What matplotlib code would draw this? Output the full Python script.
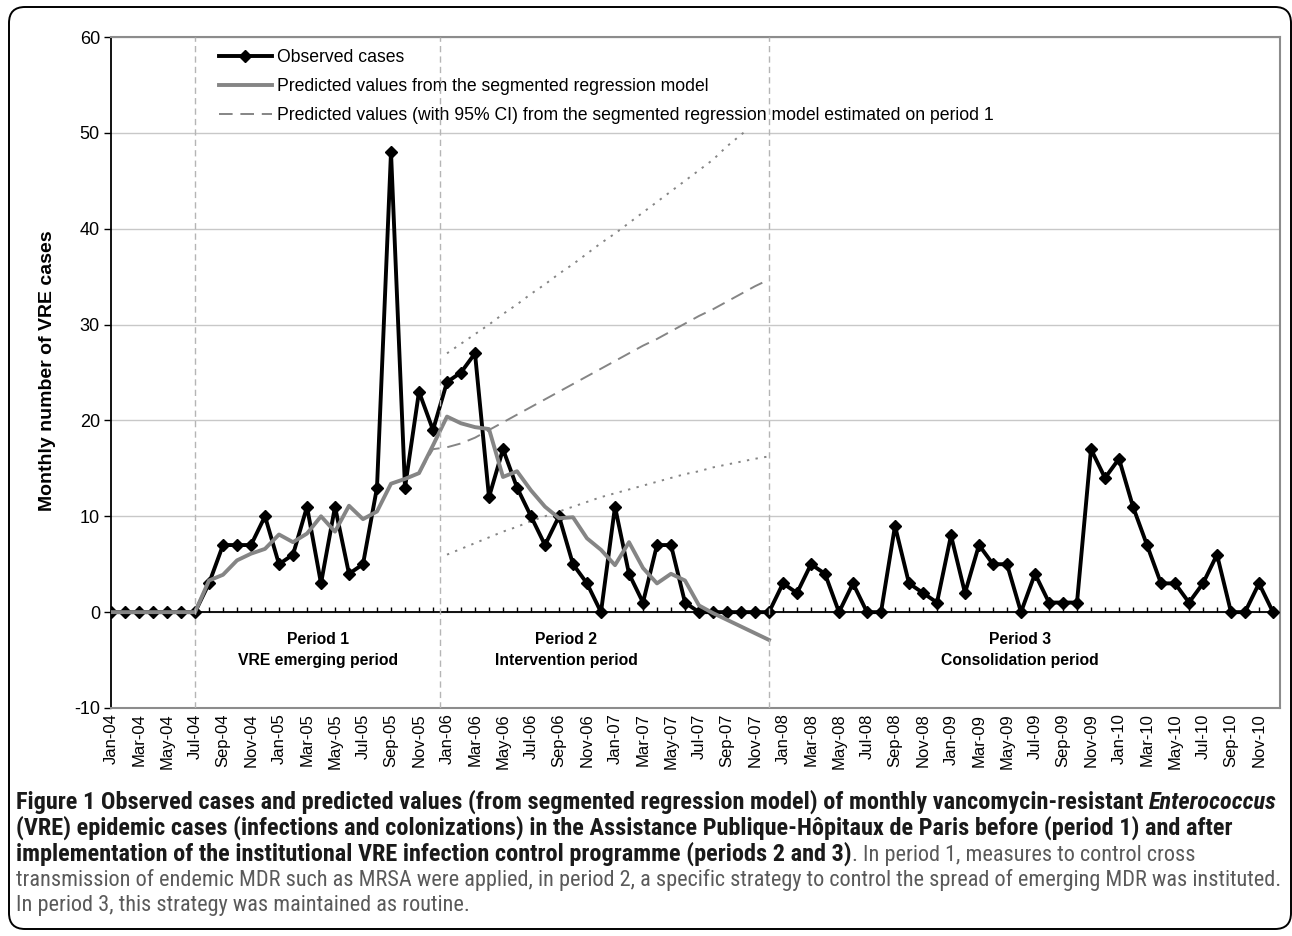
import numpy as np
import matplotlib
matplotlib.use('Agg')
import matplotlib.pyplot as plt
from matplotlib.lines import Line2D
from matplotlib.patches import FancyBboxPatch
from matplotlib.transforms import IdentityTransform
from matplotlib import font_manager as fm

# ---------------- data ----------------
tick_labels = ['Jan-04', 'Mar-04', 'May-04', 'Jul-04', 'Sep-04', 'Nov-04',
               'Jan-05', 'Mar-05', 'May-05', 'Jul-05', 'Sep-05', 'Nov-05',
               'Jan-06', 'Mar-06', 'May-06', 'Jul-06', 'Sep-06', 'Nov-06',
               'Jan-07', 'Mar-07', 'May-07', 'Jul-07', 'Sep-07', 'Nov-07',
               'Jan-08', 'Mar-08', 'May-08', 'Jul-08', 'Sep-08', 'Nov-08',
               'Jan-09', 'Mar-09', 'May-09', 'Jul-09', 'Sep-09', 'Nov-09',
               'Jan-10', 'Mar-10', 'May-10', 'Jul-10', 'Sep-10', 'Nov-10']

# monthly observed VRE cases, Jan-04 .. Dec-10
observed = [0, 0, 0, 0, 0, 0, 0, 3, 7, 7, 7, 10,
            5, 6, 11, 3, 11, 4, 5, 13, 48, 13, 23, 19,
            24, 25, 27, 12, 17, 13, 10, 7, 10, 5, 3, 0,
            11, 4, 1, 7, 7, 1, 0, 0, 0, 0, 0, 0,
            3, 2, 5, 4, 0, 3, 0, 0, 9, 3, 2, 1,
            8, 2, 7, 5, 5, 0, 4, 1, 1, 1, 17, 14,
            16, 11, 7, 3, 3, 1, 3, 6, 0, 0, 3, 0]

# predicted values from segmented regression model, Jan-04 .. Dec-07
predicted = [0, 0, 0, 0, 0, 0, 0, 3.3, 3.9, 5.4, 6.1, 6.6,
             8.1, 7.3, 8.2, 10.0, 8.4, 11.1, 9.7, 10.5, 13.4, 13.9, 14.5, 17.4,
             20.4, 19.7, 19.3, 19.1, 14.1, 14.7, 12.7, 11.0, 9.8, 9.9, 7.7, 6.5,
             4.9, 7.3, 4.6, 3.0, 4.0, 3.3, 0.7, -0.1, -0.8, -1.5, -2.2, -2.9]

# model estimated on period 1, Jul-04 .. Dec-07
period1_model = [0, 3.3, 3.9, 5.4, 6.1, 6.6,
                 8.1, 7.3, 8.2, 10.0, 8.4, 11.1, 9.7, 10.5, 13.4, 13.9, 14.5, 17.0,
                 17.2, 17.6, 18.2, 19.0, 19.8, 20.6, 21.4, 22.2, 23.0, 23.8, 24.6, 25.4,
                 26.2, 27.0, 27.8, 28.5, 29.3, 30.1, 30.9, 31.6, 32.4, 33.2, 34.0, 34.7]
period1_start = 6

# 95% CI of that model, Jan-06 .. Dec-07
ci_upper = [27.0, 28.0, 29.0, 30.0, 31.1, 32.1, 33.2, 34.2, 35.3, 36.3, 37.4, 38.5,
            39.5, 40.6, 41.7, 42.8, 43.9, 45.0, 46.1, 47.2, 48.6, 49.8, 51.0, 52.2]
ci_lower = [6.0, 6.6, 7.2, 7.8, 8.4, 8.9, 9.5, 10.0, 10.5, 11.0, 11.5, 12.0,
            12.4, 12.8, 13.2, 13.6, 14.0, 14.4, 14.7, 15.1, 15.4, 15.7, 16.0, 16.25]
ci_start = 24

period_bounds = [6, 23.5, 47]
period_texts = ['Period 1\nVRE emerging period', 'Period 2\nIntervention period',
                'Period 3\nConsolidation period']
period_text_x = [14.8, 32.5, 64.9]

legend_labels = ['Observed cases',
                 'Predicted values from the segmented regression model',
                 'Predicted values (with 95% CI) from the segmented regression model estimated on period 1']

# ---------------- fonts ----------------
names = {f.name for f in fm.fontManager.ttflist}
sans = 'Liberation Sans' if 'Liberation Sans' in names else 'DejaVu Sans'
cond = None
for cand in ['Liberation Sans Narrow', 'DejaVu Sans Condensed', 'Roboto Condensed', 'Open Sans Condensed']:
    if cand in names:
        cond = cand
        break
if cond is None:
    cond = sans
plt.rcParams['font.family'] = [sans, 'DejaVu Sans']
plt.rcParams['axes.unicode_minus'] = False

W, H = 1292, 936
fig = plt.figure(figsize=(W / 100, H / 100), dpi=100)
ax = fig.add_axes([111 / W, 1 - 708 / H, (1280 - 111) / W, (708 - 37) / H])

x_obs = np.arange(len(observed))
x_pred = np.arange(len(predicted))
x_p1 = np.arange(len(period1_model)) + period1_start
x_ci = np.arange(len(ci_upper)) + ci_start

grey = '#858585'
ax.set_xlim(0, 83.5)
ax.set_ylim(-10, 60)
ax.set_yticks(np.arange(-10, 61, 10))
ax.yaxis.grid(True, color='#c8c8c8', lw=1.0)
ax.set_axisbelow(True)

# zero line with monthly tick marks
ax.axhline(0, color='black', lw=1.3, zorder=2)
ax.vlines(x_obs, 0, 0.55, color='black', lw=1.0, zorder=2)

ax.plot(x_ci, ci_upper, color=grey, lw=1.4, dashes=(1.2, 3.3), zorder=3)
ax.plot(x_ci, ci_lower, color=grey, lw=1.4, dashes=(1.2, 3.3), zorder=3)
ax.plot(x_p1, period1_model, color=grey, lw=1.4, dashes=(7, 4), zorder=3)
ax.plot(x_obs, observed, color='black', lw=2.8, marker='D', ms=5.8, zorder=4)
ax.plot(x_pred, predicted, color=grey, lw=2.8, zorder=4.5)

for xb in period_bounds:
    ax.axvline(xb, color='#b5b5b5', lw=1.0, dashes=(4.5, 3), zorder=7)

for xt, t in zip(period_text_x, period_texts):
    ax.text(xt, -3.9, t, ha='center', va='center', fontsize=11.3,
            fontweight='bold', linespacing=1.5)

ax.set_xticks(np.arange(0, 84, 2))
ax.set_xticklabels(tick_labels, rotation=90, fontsize=12)
ax.tick_params(axis='x', length=0, pad=4)
ax.tick_params(axis='y', length=5, width=1, labelsize=13, pad=3, color='black')

for s in ['top', 'right', 'bottom']:
    ax.spines[s].set_color('#8c8c8c')
    ax.spines[s].set_linewidth(1.5)
ax.spines['left'].set_color('black')
ax.spines['left'].set_linewidth(1.3)

handles = [Line2D([], [], color='black', lw=2.8, marker='D', ms=5.8),
           Line2D([], [], color=grey, lw=2.8),
           Line2D([], [], color=grey, lw=1.4, dashes=(7, 4))]
leg = ax.legend(handles, legend_labels, loc='upper left',
                bbox_to_anchor=((212 - 111) / 1169, (708 - 42) / 671),
                frameon=True, fancybox=False, edgecolor='none', facecolor='white',
                framealpha=1, fontsize=12.7, handlelength=3.0, handletextpad=0.3,
                labelspacing=0.68, borderpad=0.38, borderaxespad=0)
leg.set_zorder(6)

fig.text(48 / W, 1 - 371 / H, 'Monthly number of VRE cases', rotation=90,
         ha='center', va='center', fontsize=14, fontweight='bold')

# ---------------- caption ----------------
renderer = fig.canvas.get_renderer()
bold_col = '#1a1a1a'
norm_col = '#5a5a5a'

def make(x, y, s, **kw):
    return fig.text(x / W, 1 - y / H, s, ha='left', va='baseline', family=[cond, 'DejaVu Sans'], **kw)

def width(ts):
    return sum(t.get_window_extent(renderer).width for t in ts)

line1 = [('Figure 1 Observed cases and predicted values (from segmented regression model) of monthly vancomycin-resistant ', dict(fontweight='bold', color=bold_col)),
         ('Enterococcus', dict(fontweight='bold', fontstyle='italic', color=bold_col))]
line2 = [('(VRE) epidemic cases (infections and colonizations) in the Assistance Publique-H\u00f4pitaux de Paris before (period 1) and after', dict(fontweight='bold', color=bold_col))]
line3 = [('implementation of the institutional VRE infection control programme (periods 2 and 3)', dict(fontweight='bold', color=bold_col)),
         ('. In period 1, measures to control cross', dict(color=norm_col))]
line4 = [('transmission of endemic MDR such as MRSA were applied, in period 2, a specific strategy to control the spread of emerging MDR was instituted.', dict(color=norm_col))]
line5 = [('In period 3, this strategy was maintained as routine.', dict(color=norm_col))]

probe = [make(0, 0, s, fontsize=14, **kw) for s, kw in line1]
bsize = 14 * 1267 / width(probe)
for p in probe:
    p.remove()
probe = [make(0, 0, s, fontsize=14, **kw) for s, kw in line4]
nsize = 14 * 1269 / width(probe)
for p in probe:
    p.remove()

baselines = [809, 835, 861, 886, 911]
for lines, yb in zip([line1, line2, line3, line4, line5], baselines):
    x = 16
    for s, kw in lines:
        size = bsize if kw.get('fontweight') == 'bold' else nsize
        t = make(x, yb, s, fontsize=size, **kw)
        x += t.get_window_extent(renderer).width

frame = FancyBboxPatch((9, H - 929), 1282, 922, boxstyle='round,pad=0,rounding_size=16',
                       transform=IdentityTransform(), fill=False, ec='black', lw=1.4)
fig.patches.append(frame)

fig.savefig('out.png', dpi=100)
